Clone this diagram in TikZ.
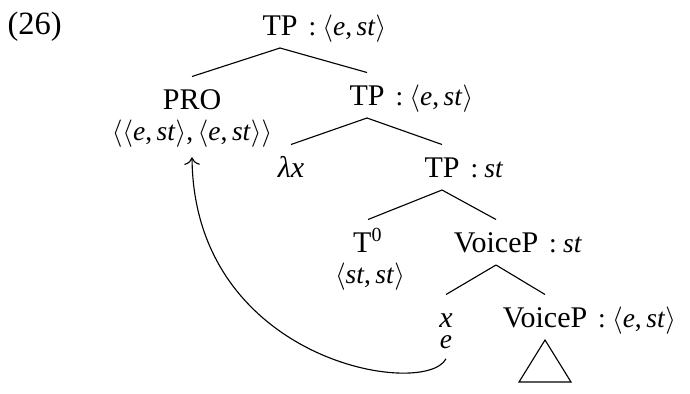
\documentclass[tikz,border=0pt]{standalone}
\usepackage{fontspec}
\setmainfont{Liberation Serif}
\usetikzlibrary{arrows.meta, positioning, calc}

\newcommand{\tpair}[1]{$\langle$#1$\rangle$}
\newcommand{\colty}[1]{:\hspace{2.5pt}#1}

\begin{document}
\begin{tikzpicture}[
  x=0.4pt, y=-0.4pt,
  cat/.style={
    anchor=base,
    inner xsep=0pt,
    inner ysep=5pt,
    text height=7.8pt,
    text depth=0pt,
    font=\fontsize{12}{14}\selectfont
  },
  ty/.style={
    anchor=base,
    inner xsep=0pt,
    inner ysep=4pt,
    font=\fontsize{11}{13}\selectfont
  },
  branch/.style={line width=0.45pt},
  bind/.style={line width=0.45pt, -{To[length=3pt]}}
]
  \useasboundingbox (0,0) rectangle (690,393);

  \node[cat, anchor=base west, font=\fontsize{13}{15}\selectfont] (exno) at (7,34) {(26)};

  % root
  \node[cat] (tp1) at (280,35) {TP};
  \node[ty, right=4pt of tp1.base east, anchor=base west] (tp1ty) {\colty{\tpair{\textit{e},\,\textit{st}}}};

  % first level
  \node[cat] (pro) at (192,109) {PRO};
  \node[ty] (proty) at ($(pro.base)+(0,31)$) {\tpair{\tpair{\textit{e},\,\textit{st}},\,\tpair{\textit{e},\,\textit{st}}}};
  \node[cat] (tp2) at (367,105) {TP};
  \node[ty, right=4pt of tp2.base east, anchor=base west] (tp2ty) {\colty{\tpair{\textit{e},\,\textit{st}}}};

  % second level
  \node[cat] (lam) at (291,177) {\textit{λx}};
  \node[cat] (tp3) at (442,177) {TP};
  \node[ty, right=4pt of tp3.base east, anchor=base west] (tp3ty) {\colty{\textit{st}}};

  % third level
  \node[cat] (tzero) at (368,252) {T\textsuperscript{0}};
  \node[ty] (tzeroty) at ($(tzero.base)+(2,31)$) {\tpair{\textit{st},\,\textit{st}}};
  \node[cat] (vp1) at (496,252) {VoiceP};
  \node[ty, right=4pt of vp1.base east, anchor=base west] (vp1ty) {\colty{\textit{st}}};

  % fourth level
  \node[cat] (xvar) at (446,327) {\textit{x}};
  \node[ty] (xty) at ($(xvar.base)+(0,21)$) {\textit{e}};
  \node[cat] (vp2) at (545,327) {VoiceP};
  \node[ty, right=4pt of vp2.base east, anchor=base west] (vp2ty) {\colty{\tpair{\textit{e},\,\textit{st}}}};

  \draw[branch] (tp1.south) -- (pro.north);
  \draw[branch] (tp1.south) -- (tp2.north);
  \draw[branch] (tp2.south) -- (lam.north);
  \draw[branch] (tp2.south) -- (tp3.north);
  \draw[branch] (tp3.south) -- (tzero.north);
  \draw[branch] (tp3.south) -- (vp1.north);
  \draw[branch] (vp1.south) -- (xvar.north);
  \draw[branch] (vp1.south) -- (vp2.north);
  \draw[branch] (vp2.south) -- ++(-26,42) -- ++(52,0) -- cycle;

  % binding arrow from x back to PRO
  \draw[bind] (xty.south) .. controls +(-21,40) and +(2,205) .. (proty.south);

\end{tikzpicture}
\end{document}
